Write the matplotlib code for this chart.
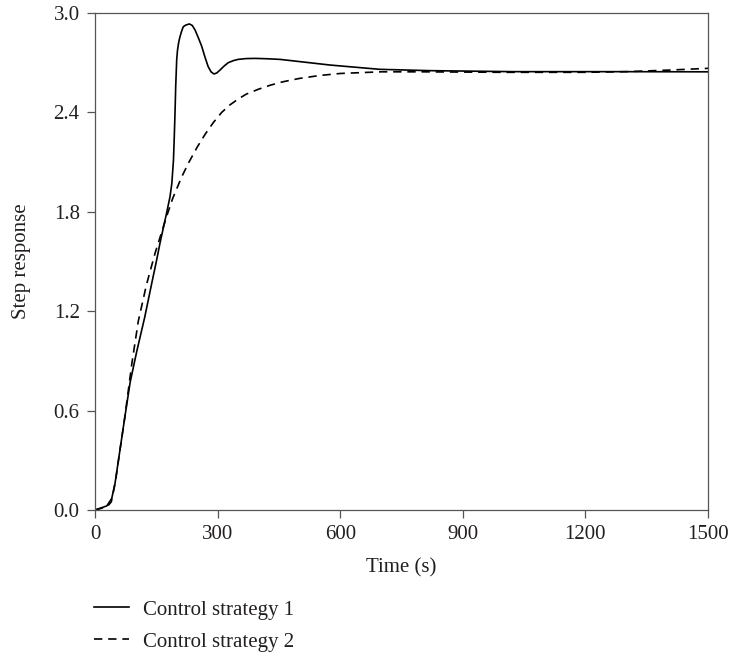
import matplotlib
matplotlib.use("Agg")
import matplotlib.pyplot as plt

# values
t_strategy1 = [0, 29, 41, 49, 61, 73, 86, 102, 122, 139, 151, 159, 175, 183.5, 188,
               192, 194, 196, 197.5, 200, 202, 205, 208, 212, 216, 222, 231, 238, 245,
               253, 261, 269, 277, 284, 291, 298, 306, 316, 326, 338, 350, 370, 392,
               420, 453, 489, 575, 697, 820, 1023, 1268, 1500]
y_strategy1 = [0.0, 0.025, 0.07, 0.16, 0.36, 0.56, 0.77, 0.955, 1.167, 1.37, 1.51, 1.61,
               1.79, 1.89, 1.97, 2.11, 2.25, 2.41, 2.555, 2.72, 2.777, 2.825, 2.857,
               2.89, 2.917, 2.927, 2.934, 2.925, 2.897, 2.85, 2.80, 2.735, 2.676, 2.645,
               2.632, 2.638, 2.656, 2.68, 2.70, 2.712, 2.72, 2.725, 2.726, 2.724, 2.72,
               2.71, 2.686, 2.66, 2.652, 2.646, 2.646, 2.645]

t_strategy2 = [0, 30, 40, 50, 61, 73, 90, 106, 126, 147, 175, 190, 212, 230, 250, 270,
               290, 310, 330, 350, 370, 400, 430, 460, 500, 550, 600, 700, 800, 1000,
               1200, 1300, 1400, 1500]
y_strategy2 = [0.0, 0.02, 0.05, 0.17, 0.36, 0.56, 0.88, 1.14, 1.36, 1.55, 1.77, 1.88,
               2.01, 2.10, 2.19, 2.27, 2.34, 2.40, 2.445, 2.48, 2.51, 2.54, 2.565, 2.585,
               2.605, 2.623, 2.635, 2.645, 2.645, 2.642, 2.642, 2.646, 2.655, 2.666]

x_ticks = [0, 300, 600, 900, 1200, 1500]
y_ticks = [0.0, 0.6, 1.2, 1.8, 2.4, 3.0]

plt.rcParams["font.family"] = ["Liberation Serif", "DejaVu Serif"]
plt.rcParams["font.size"] = 15

fig = plt.figure(figsize=(7.3, 6.57), dpi=100)
ax = fig.add_axes([0.1301, 0.2237, 0.8398, 0.7565])

line1, = ax.plot(t_strategy1, y_strategy1, color="black", linewidth=1.2,
                 label="Control strategy 1")
line2, = ax.plot(t_strategy2, y_strategy2, color="black", linewidth=1.2,
                 linestyle=(0, (5, 3.5)), label="Control strategy 2")

ax.set_xlim(0, 1500)
ax.set_ylim(0, 3.0)
ax.set_xticks(x_ticks)
ax.set_yticks(y_ticks)
ax.set_yticklabels([f"{v:.1f}" for v in y_ticks])

spine_color = "#555555"
for s in ax.spines.values():
    s.set_color(spine_color)
    s.set_linewidth(0.9)
ax.tick_params(direction="out", length=6, width=0.9, color=spine_color,
               labelcolor="#231f20", pad=5)

ax.set_xlabel("Time (s)", color="#231f20")
ax.set_ylabel("Step response", color="#231f20")
ax.xaxis.set_label_coords(0.5, -0.096)
ax.yaxis.set_label_coords(-0.104, 0.5)

fig.legend(handles=[line1, line2], loc="upper left",
           bbox_to_anchor=(94 / 730, 1 - 600 / 657), frameon=False,
           borderpad=0, borderaxespad=0, handlelength=1.7, handletextpad=0.67,
           labelspacing=0.6, labelcolor="#231f20")

fig.savefig("out.png", dpi=100)
